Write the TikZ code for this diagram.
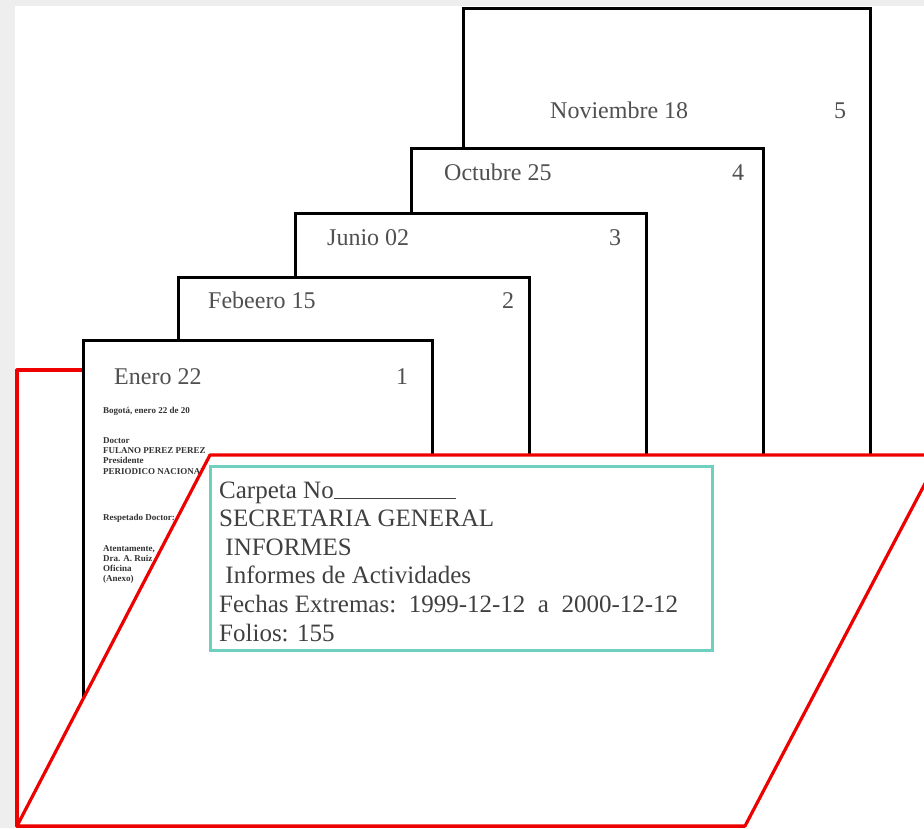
\documentclass[tikz,border=0pt]{standalone}
\usepackage{fontspec}
\setmainfont{LiberationSerif}[Extension=.ttf,UprightFont=*-Regular,BoldFont=*-Bold,
  ItalicFont=*-Italic,BoldItalicFont=*-BoldItalic]
\usetikzlibrary{positioning}
\definecolor{folderred}{RGB}{238,0,0}
\definecolor{tealbox}{RGB}{112,208,192}
\definecolor{labelgray}{RGB}{80,80,80}
\definecolor{margin}{RGB}{238,238,238}

\begin{document}
\begin{tikzpicture}[x=1pt,y=-1pt,
  page/.style={draw=black,line width=3pt,fill=white},
  fold/.style={draw=folderred,line width=3.2pt,line join=round},
  tab/.style={font=\fontsize{24}{28}\selectfont,text=labelgray,inner sep=0pt,anchor=base west},
  num/.style={font=\fontsize{24}{28}\selectfont,text=labelgray,inner sep=0pt,anchor=base},
  tiny/.style={font=\fontsize{9}{10}\selectfont\bfseries,text=black!80,inner sep=0pt,anchor=base west},
  card/.style={draw=tealbox,line width=3pt,fill=white,anchor=north west,
    minimum width=502pt,minimum height=184pt,inner sep=0pt},
  cardtxt/.style={font=\fontsize{25}{29}\selectfont,text=black!75,inner sep=0pt,anchor=base west},
]
\useasboundingbox (0,0) rectangle (924,828);
\fill[margin] (0,0) rectangle (924,828);
\fill[white] (15,6) rectangle (924,828);

% back of the folder
\draw[fold] (200,370) -- (17,370) -- (17,826) -- (745,826);

% documents, back to front
\draw[page] (463,455) |- (870,8) -- (870,455);
\node[tab] (lab5) at (550,118) {Noviembre 18};
\node[num] (num5) at (840,118) {5};

\draw[page] (411,455) |- (763,148) -- (763,455);
\node[tab] (lab4) at (444,180) {Octubre 25};
\node[num] (num4) at (738,180) {4};

\draw[page] (295,455) |- (646,213) -- (646,455);
\node[tab] (lab3) at (327,245) {Junio 02};
\node[num] (num3) at (615,245) {3};

\draw[page] (178,455) |- (529,277) -- (529,455);
\node[tab] (lab2) at (208,308) {Febeero 15};
\node[num] (num2) at (508,308) {2};

\draw[page] (83,826) |- (432,340) -- (432,826);
\node[tab] (lab1) at (114,384) {Enero 22};
\node[num] (num1) at (402,384) {1};

% letter on the first document
\node[tiny] (let1) at (103,413) {Bogotá, enero 22 de 20};
\node[tiny] (let2) at (103,443) {Doctor};
\node[tiny] (let3) at (103,453) {FULANO PEREZ PEREZ};
\node[tiny] (let4) at (103,463) {Presidente};
\node[tiny] (let5) at (103,474) {PERIODICO NACIONAL, DE};
\node[tiny] (let6) at (103,520) {Respetado Doctor:};
\node[tiny] (let7) at (103,551) {Atentamente,};
\node[tiny] (let8) at (103,561) {Dra. A. Ruiz};
\node[tiny] (let9) at (103,571) {Oficina};
\node[tiny] (let10) at (103,581) {(Anexo)};

% front flap
\draw[fold,fill=white] (17,826) -- (210,455) -- (940,455) -- (745,826) -- cycle;

% folder label
\node[card] (card) at (209,465) {};
\foreach \t [count=\i] in {{Carpeta No\rule[-1pt]{122pt}{1.2pt}},
    {SECRETARIA GENERAL},{\ INFORMES},{\ Informes de Actividades},
    {Fechas Extremas:\ \ 1999-12-12\ \ a\ \ 2000-12-12},{Folios: 155}}
  \node[cardtxt] (line\i) at (219,{498+28.6*(\i-1)}) {\t};
\end{tikzpicture}
\end{document}
